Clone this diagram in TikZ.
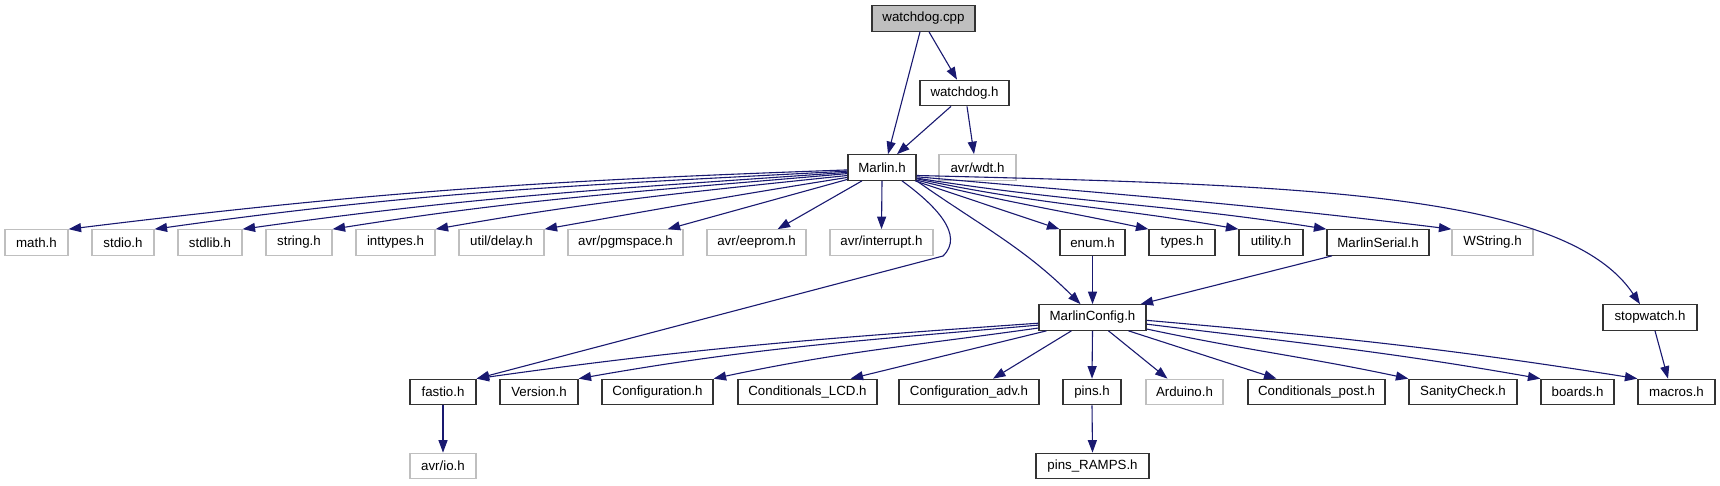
\documentclass[tikz,border=0pt]{standalone}
\usepackage{fontspec}
\setmainfont{Liberation Sans}
\usetikzlibrary{arrows.meta}

\definecolor{edgeblue}{RGB}{25,25,112}
\definecolor{greyframe}{RGB}{191,191,191}

\tikzset{
  hdr/.style={draw=black!80, line width=1.2pt, fill=white, minimum height=25.5pt,
    inner sep=0pt, font=\fontsize{13.3}{15}\selectfont},
  extern/.style={hdr, draw=greyframe},
  root/.style={hdr, fill=greyframe},
  wd/.style={minimum width=#1pt},
  dep/.style={draw=edgeblue, line width=1.1pt, -{Triangle[length=12.5pt,width=9pt]}}
}

\begin{document}
\begin{tikzpicture}[x=1pt,y=1pt]

\useasboundingbox (0,0) rectangle (1720,-485);

% Top
\node[root,wd=103] (cpp) at (923.5,-18.5) {watchdog.cpp};
\node[hdr,wd=89] (wdh) at (964.5,-93) {watchdog.h};
\node[hdr,wd=68] (marlin) at (882,-167.5) {Marlin.h};
\node[extern,wd=77] (wdt) at (977.5,-167.5) {avr/wdt.h};

% Headers of Marlin.h
\node[extern,wd=63] (math) at (36.5,-242.5) {math.h};
\node[extern,wd=62] (stdio) at (123,-242.5) {stdio.h};
\node[extern,wd=64] (stdlib) at (210,-242.5) {stdlib.h};
\node[extern,wd=66] (string) at (299,-242.5) {string.h};
\node[extern,wd=79] (inttypes) at (395.5,-242.5) {inttypes.h};
\node[extern,wd=85] (delay) at (501.5,-242.5) {util/delay.h};
\node[extern,wd=115] (pgmspace) at (625.5,-242.5) {avr/pgmspace.h};
\node[extern,wd=99] (eeprom) at (756.5,-242.5) {avr/eeprom.h};
\node[extern,wd=103] (interrupt) at (881.5,-242.5) {avr/interrupt.h};
\node[hdr,wd=65] (enum) at (1092.5,-242.5) {enum.h};
\node[hdr,wd=66] (types) at (1182,-242.5) {types.h};
\node[hdr,wd=64] (utility) at (1271,-242.5) {utility.h};
\node[hdr,wd=102] (mserial) at (1378,-242.5) {MarlinSerial.h};
\node[extern,wd=81] (wstring) at (1492.5,-242.5) {WString.h};

% Config level
\node[hdr,wd=107] (mconf) at (1092.5,-317.5) {MarlinConfig.h};
\node[hdr,wd=94] (stopwatch) at (1650,-317.5) {stopwatch.h};

% Headers of MarlinConfig.h
\node[hdr,wd=66] (fastio) at (443,-392) {fastio.h};
\node[hdr,wd=78] (version) at (539,-392) {Version.h};
\node[hdr,wd=111] (config) at (657.5,-392) {Configuration.h};
\node[hdr,wd=139] (condlcd) at (807.5,-392) {Conditionals\_LCD.h};
\node[hdr,wd=140] (confadv) at (969,-392) {Configuration\_adv.h};
\node[hdr,wd=58] (pins) at (1092,-392) {pins.h};
\node[extern,wd=77] (arduino) at (1184.5,-392) {Arduino.h};
\node[hdr,wd=137] (condpost) at (1316.5,-392) {Conditionals\_post.h};
\node[hdr,wd=108] (sanity) at (1463,-392) {SanityCheck.h};
\node[hdr,wd=73] (boards) at (1577.5,-392) {boards.h};
\node[hdr,wd=77] (macros) at (1676.5,-392) {macros.h};

% Bottom
\node[extern,wd=66] (avrio) at (443,-466) {avr/io.h};
\node[hdr,wd=113] (ramps) at (1092.5,-466) {pins\_RAMPS.h};

% Bend of the fastio.h edge
\coordinate (fbend) at (943,-256);

% Edges from the top
\draw[dep] ([xshift=-3.5pt]cpp.south) -- ([xshift=6pt]marlin.north);
\draw[dep] ([xshift=5.5pt]cpp.south) -- ([xshift=-7.5pt]wdh.north);
\draw[dep] ([xshift=-13.5pt]wdh.south) -- ([xshift=15pt]marlin.north);
\draw[dep] ([xshift=2.5pt]wdh.south) -- ([xshift=-3.5pt]wdt.north);

% Marlin.h, left fan
\draw[dep] (marlin.184) to[out=182,in=7] (math.north east);
\draw[dep] (marlin.186) to[out=183,in=8] (stdio.north east);
\draw[dep] (marlin.188) to[out=184,in=8] (stdlib.north east);
\draw[dep] (marlin.190) to[out=185,in=9] (string.north east);
\draw[dep] (marlin.193) to[out=186,in=10] (inttypes.north east);
\draw[dep] (marlin.196) to[out=189,in=10] (delay.north east);
\draw[dep] (marlin.199) -- ([xshift=-16pt]pgmspace.north east);
\draw[dep] ([xshift=-20pt]marlin.south) -- ([xshift=-29pt]eeprom.north east);
\draw[dep] (marlin.south) -- (interrupt.north);
\draw[dep] ([xshift=20pt]marlin.south) .. controls (935,-205) and (965,-235) .. (fbend)
  -- (fastio.north east);
\draw[dep] (marlin.south east) to[out=-35,in=135] ([xshift=-12pt]mconf.north);

% Marlin.h, right fan
\draw[dep] (marlin.-22) -- (enum.north west);
\draw[dep] (marlin.-20) to[out=-14,in=168] (types.north west);
\draw[dep] (marlin.-18.5) to[out=-12,in=170] (utility.north west);
\draw[dep] (marlin.-17) to[out=-9,in=171] (mserial.north west);
\draw[dep] (marlin.-15) to[out=-5,in=173] (wstring.north west);
\draw[dep] (marlin.-13) .. controls (1300,-185) and (1565,-192) .. ([xshift=-10pt]stopwatch.north);

% Into MarlinConfig.h
\draw[dep] (enum.south) -- (mconf.north);
\draw[dep] ([xshift=-46pt]mserial.south) -- ([xshift=-6pt]mconf.north east);
\draw[dep] ([xshift=5pt]stopwatch.south) -- ([xshift=-8.5pt]macros.north);

% MarlinConfig.h fan
\draw[dep] (mconf.186) to[out=184,in=8] (fastio.north east);
\draw[dep] (mconf.188) to[out=185,in=10] (version.north east);
\draw[dep] (mconf.191) to[out=188,in=12] (config.north east);
\draw[dep] ([xshift=8pt]mconf.south west) -- ([xshift=-27pt]condlcd.north east);
\draw[dep] ([xshift=33pt]mconf.south west) -- ([xshift=24pt]confadv.north);
\draw[dep] (mconf.south) -- (pins.north);
\draw[dep] ([xshift=16pt]mconf.south) -- ([xshift=-17pt]arduino.north);
\draw[dep] ([xshift=36pt]mconf.south) -- ([xshift=-40pt]condpost.north);
\draw[dep] (mconf.-12) to[out=-12,in=168] (sanity.north west);
\draw[dep] (mconf.-7) to[out=-7,in=170] (boards.north west);
\draw[dep] (mconf.-3) to[out=-5,in=171] (macros.north west);

% Last level
\draw[dep] (fastio.south) -- (avrio.north);
\draw[dep] (pins.south) -- (ramps.north);

\end{tikzpicture}
\end{document}
